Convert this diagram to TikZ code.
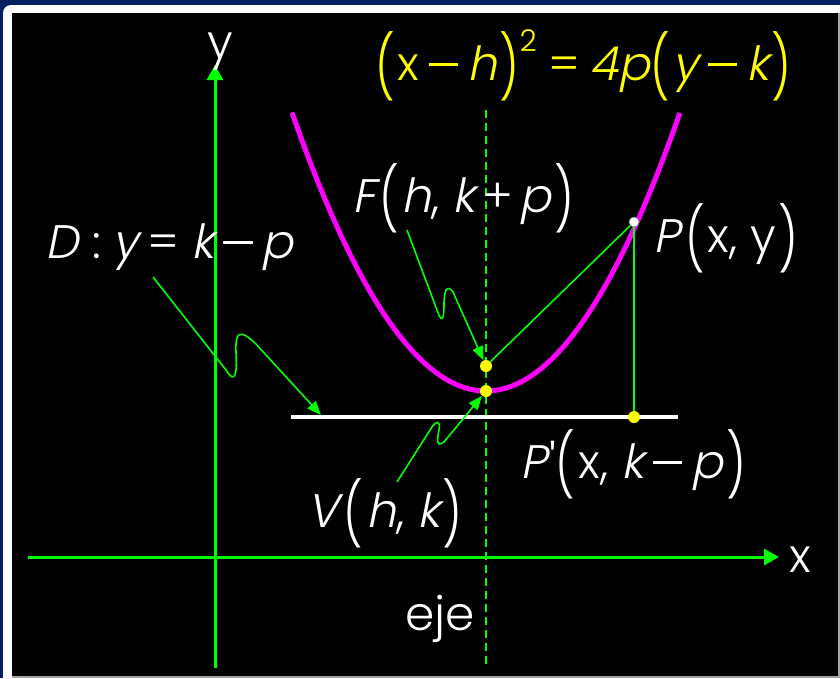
\documentclass[tikz,border=0pt]{standalone}
\usepackage{fontspec}
\usepackage{graphicx}
\setmainfont{Poppins Light}
\newfontfamily\gi[FakeSlant=0.2]{Poppins Light}
\usetikzlibrary{arrows.meta}
\definecolor{grn}{HTML}{00FF00}
\definecolor{mag}{HTML}{FF00FF}
\definecolor{yel}{HTML}{FFFF00}
\definecolor{frameblue}{HTML}{002060}
\newcommand\lp{\raisebox{-0.2em}{\scalebox{1}[1.32]{(}}\hspace{0.06em}}
\newcommand\rp{\hspace{0.06em}\raisebox{-0.2em}{\scalebox{1}[1.32]{)}}}
\newcommand\mn{\hspace{0.2em}\rule[0.3em]{0.62em}{0.055em}\hspace{0.2em}}
\newcommand\iv[1]{{\gi #1}}
\begin{document}
\begin{tikzpicture}[x=1pt,y=-1pt,
  axis/.style={grn,line width=3pt,-{Triangle[length=15pt,width=16pt]}},
  gline/.style={grn,line width=1.6pt},
  arr/.style={grn,line width=1.6pt,-{Triangle[length=14pt,width=11pt]}},
  ydot/.style={circle,fill=yel,minimum size=12pt,inner sep=0pt},
  wdot/.style={circle,fill=white,draw=gray,line width=0.6pt,minimum size=10pt,inner sep=0pt},
  lab/.style={white,anchor=base west,inner sep=0pt,font=\fontsize{47}{47}\selectfont},
]
\useasboundingbox (0,0) rectangle (840,678);
% frame
\fill[frameblue] (0,0) rectangle (840,678);
\fill[white,rounded corners=8pt] (3,5) rectangle (870,700);
\fill[black] (12,13) rectangle (838,676);
\fill[gray!70] (838,13) rectangle (840,678);
\fill[gray!70] (12,676) rectangle (840,678);
% axes
\coordinate (yb) at (215,668);
\coordinate (yt) at (215,65);
\coordinate (xl) at (28,557);
\coordinate (xr) at (779,557);
\draw[axis] (yb) -- (yt);
\draw[axis] (xl) -- (xr);
% symmetry axis
\coordinate (et) at (486,110);
\coordinate (eb) at (486,664);
\draw[grn,line width=2pt,dash pattern=on 8pt off 5pt] (et) -- (eb);
% directrix
\coordinate (dl) at (291,417);
\coordinate (dr) at (678,417);
\draw[white,line width=3.5pt] (dl) -- (dr);
% parabola
\draw[mag,line width=5pt] plot[domain=-1.94:1.94,samples=120] ({486+100*\x},{391-74*\x*\x});
% points
\node[ydot] (F) at (486,366) {};
\node[ydot] (V) at (486,391) {};
\node[ydot] (Pp) at (634,417) {};
\node[wdot] (P) at (634,222) {};
% green lines
\draw[gline] (F) -- (P);
\draw[gline] (P) -- (Pp);
% labels
\node[lab,yel] (eq) at (375,80) {\lp x\mn \iv{h}\rp\raisebox{0.6em}{\fontsize{30}{30}\selectfont 2}\hspace{0.25em}=\hspace{0.2em}\iv{4p}\lp\iv{y}\mn\iv{k}\rp};
\node[lab] (Dl) at (45,258) {\iv{D}\hspace{0.3em}:\hspace{0.25em}\iv{y}\hspace{0.2em}=\hspace{0.25em}\iv{k}\mn\iv{p}};
\node[lab] (Fl) at (352,212) {\iv{F}\hspace{0.08em}\lp\iv{h}, \iv{k}\hspace{0.15em}+\hspace{0.15em}\iv{p}\rp};
\node[lab] (Pl) at (653,252) {\iv{P}\hspace{0.12em}\lp x, y\rp};
\node[lab] (Ppl) at (520,478) {\iv{P}\hspace{0.05em}\textquotesingle\lp x, \iv{k}\mn\iv{p}\rp};
\node[lab] (Vl) at (307,527) {\iv{V}\hspace{0.12em}\lp\iv{h}, \iv{k}\rp};
\node[lab] (ejel) at (405,630) {eje};
\node[lab,anchor=base] (ylab) at (220,58) {y};
\node[lab] (xlab) at (789,572) {x};
% squiggly arrows
\coordinate (ds) at (153,277);
\coordinate (dtip) at (321,415);
\draw[arr] (ds) -- (226,370) .. controls (236,386) and (237,372) .. (236,352)
  .. controls (235,330) and (241,330) .. (255,343) -- (dtip);
\coordinate (fs) at (407,230);
\draw[arr] (fs) -- (437,310) .. controls (441,322) and (444,322) .. (444,305)
  .. controls (444,290) and (447,284) .. (453,292) -- (F);
\coordinate (vs) at (397,482);
\draw[arr] (vs) -- (430,430) .. controls (436,420) and (441,420) .. (439,430)
  .. controls (437,440) and (436,448) .. (444,442) -- (V);
\end{tikzpicture}
\end{document}
